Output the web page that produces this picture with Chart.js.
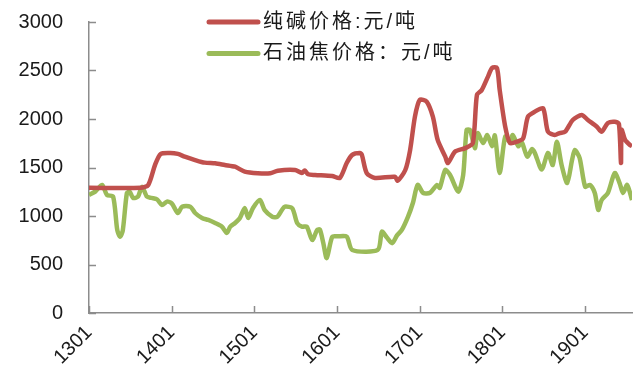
<!DOCTYPE html>
<html>
<head>
<meta charset="utf-8">
<script src="https://cdn.jsdelivr.net/npm/chart.js@4/dist/chart.umd.min.js"></script>
<style>
  html, body { margin: 0; padding: 0; background: #fff; }
  #wrap { width: 640px; height: 369px; position: relative; }
</style>
</head>
<body>
<div id="wrap"><canvas id="price-chart"></canvas></div>
<script>
// x = months since 2013-01 (1301)
const TICK_MONTHS = [0, 12, 24, 36, 48, 60, 72]
const TICK_LABELS = ['1301', '1401', '1501', '1601', '1701', '1801', '1901']

const SODA_X = [0, 7.5, 8.6, 9.6, 10.4, 11.8, 12.9, 13.9, 15.4, 16.8, 18.3, 19.7, 21.2, 22.6, 24.5, 26.3,
  27.4, 29.9, 30.9, 31.3, 31.8, 32.8, 35.3, 36.4, 37.4, 38.2, 39.3, 39.6, 40.3, 41.5, 44.4, 44.8,
  45.9, 46.6, 47.3, 48.0, 49.0, 49.9, 50.6, 51.7, 52.1, 53.1, 54.6, 55.7, 56.3, 57.0, 57.9, 58.5,
  59.2, 59.6, 60.4, 61.1, 62.1, 63.0, 63.7, 64.7, 65.9, 66.6, 67.6, 68.3, 69.1, 70.2, 71.5, 72.4,
  73.7, 74.4, 75.3, 76.3, 76.9, 77.2, 77.3, 77.8, 78.5, 78.8]
const SODA_Y = [1290, 1290, 1320, 1530, 1640, 1650, 1640, 1612, 1577, 1550, 1543, 1526, 1508, 1457, 1440, 1440,
  1467, 1474, 1443, 1470, 1430, 1423, 1412, 1392, 1546, 1630, 1650, 1630, 1443, 1392, 1405, 1364,
  1474, 1680, 2024, 2196, 2179, 2024, 1784, 1612, 1546, 1663, 1700, 1752, 2248, 2299, 2437, 2526,
  2526, 2299, 1921, 1752, 1766, 1801, 2024, 2076, 2110, 1869, 1835, 1855, 1869, 1990, 2041, 1990,
  1921, 1869, 1959, 1972, 1950, 1546, 1887, 1784, 1732, 1720]

const COKE_X = [0, 0.9, 1.9, 2.6, 3.5, 4.1, 4.5, 4.9, 5.5, 5.9, 6.4, 7.1, 7.7, 8.4, 9.1, 9.9,
  10.6, 11.3, 12.0, 12.9, 13.5, 14.7, 15.4, 16.4, 17.3, 18.3, 19.3, 20.0, 20.5, 21.2, 21.9, 22.6,
  23.1, 23.8, 24.8, 25.5, 26.6, 27.3, 28.0, 28.4, 29.5, 30.2, 30.9, 31.6, 32.4, 33.1, 33.5, 34.0,
  34.5, 35.3, 36.1, 37.4, 38.2, 41.9, 42.5, 43.2, 44.0, 44.7, 45.4, 46.3, 47.0, 47.7, 48.5, 49.5,
  50.5, 50.9, 51.7, 52.4, 53.6, 54.3, 54.8, 55.3, 56.0, 56.4, 57.2, 57.8, 58.5, 58.9, 59.6, 60.4,
  61.1, 61.5, 62.3, 62.8, 63.6, 64.3, 64.7, 65.7, 66.6, 67.3, 67.9, 68.6, 69.4, 70.1, 70.5, 71.2,
  72.0, 72.7, 73.4, 73.9, 74.4, 75.3, 76.3, 77.0, 77.5, 78.1, 78.8]
const COKE_Y = [1217, 1251, 1320, 1217, 1200, 856, 787, 850, 1237, 1250, 1186, 1200, 1302, 1200, 1186, 1170,
  1113, 1148, 1130, 1031, 1096, 1096, 1031, 979, 959, 928, 890, 825, 890, 928, 979, 1083,
  979, 1083, 1165, 1060, 993, 990, 1062, 1096, 1080, 928, 890, 890, 753, 856, 860, 722,
  567, 787, 790, 787, 650, 650, 838, 780, 720, 800, 856, 993, 1134, 1320, 1237, 1240,
  1320, 1290, 1474, 1423, 1251, 1423, 1887, 1887, 1700, 1855, 1752, 1835, 1720, 1830, 1443, 1818,
  1760, 1835, 1720, 1760, 1612, 1690, 1650, 1480, 1650, 1526, 1766, 1520, 1340, 1577, 1680, 1598,
  1302, 1320, 1237, 1062, 1165, 1237, 1443, 1340, 1237, 1320, 1165]

const RED = '#C0504D'
const GREEN = '#9BBB59'
const AXIS = '#8c8c8c'
const FONT = '"Liberation Sans", Arial, sans-serif'

const toPoints = (xs, ys) => xs.map((x, i) => ({ x, y: ys[i] }))

// inward tick marks, drawn by hand
const innerTicks = {
  id: 'innerTicks',
  afterDraw(chart) {
    const { ctx, chartArea, scales } = chart
    ctx.save()
    ctx.strokeStyle = AXIS
    ctx.lineWidth = 1.5
    ctx.beginPath()
    scales.y.ticks.forEach(t => {
      const y = Math.round(scales.y.getPixelForValue(t.value)) + 0.5
      ctx.moveTo(chartArea.left, y)
      ctx.lineTo(chartArea.left + 7, y)
    })
    scales.x.ticks.forEach(t => {
      const x = Math.round(scales.x.getPixelForValue(t.value)) + 0.5
      ctx.moveTo(x, chartArea.bottom)
      ctx.lineTo(x, chartArea.bottom - 7)
    })
    ctx.stroke()
    ctx.restore()
  },
}

// legend sits inside the plot, top centre
const innerLegend = {
  id: 'innerLegend',
  afterDraw(chart) {
    const { ctx } = chart
    ctx.save()
    ctx.font = '20px "Liberation Sans", "Noto Sans CJK SC", sans-serif'
    ctx.letterSpacing = '3px'
    ctx.textBaseline = 'middle'
    ctx.fillStyle = '#1a1a1a'
    chart.data.datasets.forEach((ds, i) => {
      const y = 22 + i * 31.5
      ctx.strokeStyle = ds.borderColor
      ctx.lineWidth = 5
      ctx.lineCap = 'round'
      ctx.beginPath()
      ctx.moveTo(209, y)
      ctx.lineTo(258, y)
      ctx.stroke()
      ctx.fillText(ds.label, 263, y)
    })
    ctx.restore()
  },
}

new Chart(document.getElementById('price-chart'), {
  type: 'line',
  data: {
    datasets: [
      {
        label: '纯碱价格:元/吨',
        data: toPoints(SODA_X, SODA_Y),
        borderColor: RED,
        backgroundColor: RED,
        borderWidth: 4.5,
        pointRadius: 0,
        tension: 0.25,
      },
      {
        label: '石油焦价格：元/吨',
        data: toPoints(COKE_X, COKE_Y),
        borderColor: GREEN,
        backgroundColor: GREEN,
        borderWidth: 4.5,
        pointRadius: 0,
        tension: 0.25,
      },
    ],
  },
  options: {
    responsive: true,
    maintainAspectRatio: false,
    animation: false,
    layout: { padding: { top: 0, right: 8, left: 0, bottom: 0 } },
    plugins: { legend: { display: false }, tooltip: { enabled: false } },
    scales: {
      x: {
        type: 'linear',
        min: 0,
        max: 78.8,
        afterBuildTicks: s => { s.ticks = TICK_MONTHS.map(v => ({ value: v })) },
        afterFit: s => { s.height = 56 },
        grid: { display: false, drawTicks: false },
        border: { color: AXIS, width: 1.5 },
        ticks: {
          minRotation: 45,
          maxRotation: 45,
          padding: 8,
          color: '#1a1a1a',
          font: { family: FONT, size: 20 },
          callback: v => TICK_LABELS[TICK_MONTHS.indexOf(v)],
        },
      },
      y: {
        min: 0,
        max: 3000,
        afterFit: s => {
          s.width = 89
          s.paddingTop = 22
          s.paddingBottom = 0
        },
        grid: { display: false, drawTicks: false },
        border: { color: AXIS, width: 1.5 },
        ticks: {
          stepSize: 500,
          padding: 26,
          color: '#1a1a1a',
          font: { family: FONT, size: 20 },
          callback: v => String(v),
        },
      },
    },
  },
  plugins: [innerTicks, innerLegend],
})
</script>
</body>
</html>
